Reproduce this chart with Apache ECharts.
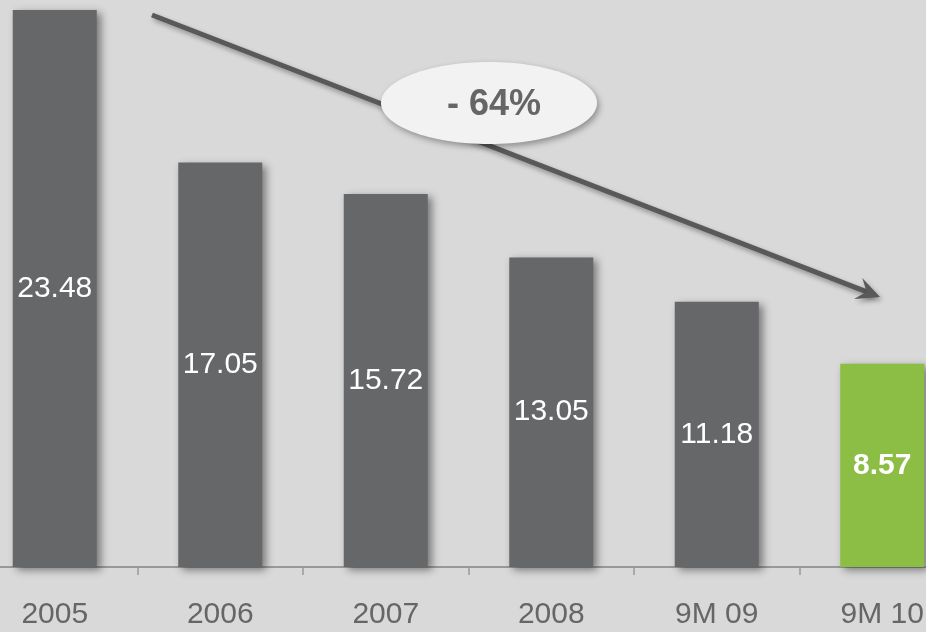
<!DOCTYPE html>
<html>
<head>
<meta charset="utf-8">
<script src="https://cdn.jsdelivr.net/npm/echarts@6/dist/echarts.min.js"></script>
<style>
  html, body { margin: 0; padding: 0; background: #d9d9d9; overflow: hidden; width: 926px; height: 632px; }
  /* the category band runs past both edges of the page */
  #chart { position: absolute; left: -28px; top: 0; width: 993px; height: 632px; }
</style>
</head>
<body>
<div id="chart"></div>
<script>
// Periods and their values
const categories = ['2005', '2006', '2007', '2008', '9M 09', '9M 10'];
const values = [23.48, 17.05, 15.72, 13.05, 11.18, 8.57];
const changeLabel = '- 64%';

const GREY = '#666769';
const GREEN = '#8cbd45';
const SHIFT = 28; // offset of the chart container against the page

const chart = echarts.init(document.getElementById('chart'));

const seriesData = values.map((v, i) => {
  const last = i === values.length - 1;
  return {
    value: v,
    itemStyle: { color: last ? GREEN : GREY },
    label: { fontWeight: last ? 'bold' : 'normal' }
  };
});

// Trend arrow from the first bar towards the last one (page coordinates)
const arrowStart = [152 + SHIFT, 15];
const arrowTip = [880 + SHIFT, 297];
const ang = Math.atan2(arrowTip[1] - arrowStart[1], arrowTip[0] - arrowStart[0]);
function arrowHead(tip, len, halfAngle) {
  const p1 = [tip[0] - len * Math.cos(ang - halfAngle), tip[1] - len * Math.sin(ang - halfAngle)];
  const p2 = [tip[0] - len * Math.cos(ang + halfAngle), tip[1] - len * Math.sin(ang + halfAngle)];
  const notch = [tip[0] - len * 0.55 * Math.cos(ang), tip[1] - len * 0.55 * Math.sin(ang)];
  return [tip, p1, notch, p2];
}
const lineEnd = [arrowTip[0] - 10 * Math.cos(ang), arrowTip[1] - 10 * Math.sin(ang)];
const shadow = { shadowColor: 'rgba(0,0,0,0.35)', shadowBlur: 5, shadowOffsetX: 2, shadowOffsetY: 3 };

chart.setOption({
  backgroundColor: '#d9d9d9',
  animation: false,
  grid: { left: 0, right: 0, top: 10, bottom: 65, containLabel: false },
  xAxis: {
    type: 'category',
    data: categories,
    boundaryGap: true,
    axisLine: { show: true, lineStyle: { color: '#999999', width: 2 } },
    axisTick: { show: true, length: 8, lineStyle: { color: '#999999', width: 1.5 } },
    axisLabel: { color: '#666666', fontSize: 30, fontFamily: 'Liberation Sans, Arial, sans-serif', margin: 33 }
  },
  yAxis: {
    type: 'value',
    min: 0,
    max: 23.48,
    show: false,
    splitLine: { show: false }
  },
  series: [{
    type: 'bar',
    data: seriesData,
    barWidth: 84,
    itemStyle: {
      shadowColor: 'rgba(0,0,0,0.45)',
      shadowBlur: 8,
      shadowOffsetX: 4,
      shadowOffsetY: 3
    },
    label: {
      show: true,
      position: 'inside',
      color: '#ffffff',
      fontSize: 30,
      fontFamily: 'Liberation Sans, Arial, sans-serif',
      formatter: p => p.value.toFixed(2)
    }
  }],
  graphic: [
    {
      type: 'polyline',
      z: 10,
      shape: { points: [arrowStart, lineEnd] },
      style: Object.assign({ stroke: '#595959', lineWidth: 5, fill: null }, shadow)
    },
    {
      type: 'polygon',
      z: 10,
      shape: { points: arrowHead(arrowTip, 26, 0.45) },
      style: Object.assign({ fill: '#595959' }, shadow)
    },
    {
      type: 'ellipse',
      z: 20,
      shape: { cx: 489 + SHIFT, cy: 103, rx: 108, ry: 41 },
      style: Object.assign({ fill: '#f2f2f2' }, shadow, { shadowBlur: 6 })
    },
    {
      type: 'text',
      z: 21,
      x: 494 + SHIFT,
      y: 105,
      style: {
        text: changeLabel,
        fill: '#666666',
        font: 'bold 36px "Liberation Sans", Arial, sans-serif',
        align: 'center',
        verticalAlign: 'middle'
      }
    }
  ]
});
</script>
</body>
</html>
